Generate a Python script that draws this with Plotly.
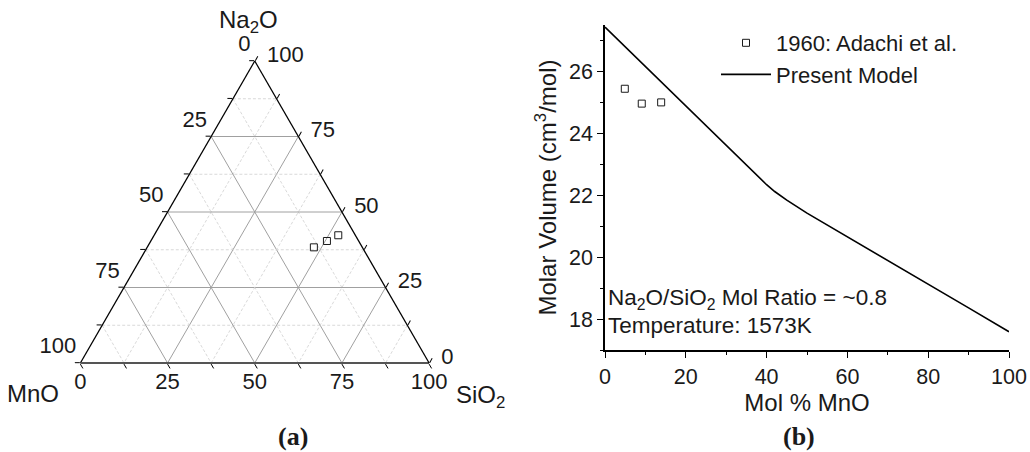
import plotly.graph_objects as go

# Adachi et al. (1960) melt compositions, mol %
mno_pct = [4.9, 9.1, 13.9]
na2o_pct = [42.3, 40.4, 38.3]
sio2_pct = [52.8, 50.5, 47.8]

# measured molar volume of those melts, cm3/mol
adachi_volume = [25.44, 24.96, 25.00]

# model prediction along the Na2O/SiO2 ~ 0.8 join
model_mno = [0, 10, 20, 30, 38, 40, 42, 45, 50, 60, 70, 80, 90, 100]
model_volume = [27.43, 26.15, 24.88, 23.60, 22.58, 22.34, 22.12, 21.84, 21.42,
                20.66, 19.89, 19.12, 18.36, 17.59]

# tick positions
ternary_ticks = [0, 12.5, 25, 37.5, 50, 62.5, 75, 87.5, 100]
ternary_major = [0, 25, 50, 75, 100]
x_ticks = [0, 20, 40, 60, 80, 100]
y_ticks = [18, 20, 22, 24, 26]

FONT = "Liberation Sans, Arial, sans-serif"
SERIF = "Liberation Serif, Times New Roman, serif"
INK = "#1a1a1a"
W, H = 1030, 452


def px_x(p):
    return p / W


def px_y(p):
    return 1 - p / H


fig = go.Figure()

# ternary grid: solid at the major ticks, dashed in between
for v in ternary_ticks[1:-1]:
    major = v in ternary_major
    style = dict(color="#a0a0a0", width=1) if major else dict(color="#cfcfcf", width=0.8, dash="3px,2px")
    for a, b, c in (
        ([v, v], [100 - v, 0], [0, 100 - v]),
        ([100 - v, 0], [v, v], [0, 100 - v]),
        ([100 - v, 0], [0, 100 - v], [v, v]),
    ):
        fig.add_trace(go.Scatterternary(a=a, b=b, c=c, mode="lines", line=style,
                                        showlegend=False, hoverinfo="skip"))

# MnO scale along the left edge (SiO2 = 0)
fig.add_trace(go.Scatterternary(
    a=[100 - v for v in ternary_major], b=ternary_major, c=[0] * len(ternary_major),
    mode="markers+text", text=[f"{v:g}" for v in ternary_major],
    textposition="top left", textfont=dict(family=FONT, size=22, color=INK),
    marker=dict(size=5, opacity=0), cliponaxis=False,
    showlegend=False, hoverinfo="skip",
))
# SiO2 scale along the bottom edge (Na2O = 0)
fig.add_trace(go.Scatterternary(
    a=[0] * len(ternary_major), b=[100 - v for v in ternary_major], c=ternary_major,
    mode="markers+text", text=[f"{v:g}" for v in ternary_major],
    textposition="bottom center", textfont=dict(family=FONT, size=22, color=INK),
    marker=dict(size=13.6, opacity=0), cliponaxis=False,
    showlegend=False, hoverinfo="skip",
))

fig.add_trace(go.Scatterternary(
    a=na2o_pct, b=mno_pct, c=sio2_pct, mode="markers",
    marker=dict(symbol="square-open", size=7, color=INK, line=dict(width=1)),
    showlegend=False,
))

fig.add_trace(go.Scatter(
    x=mno_pct, y=adachi_volume, mode="markers", name="1960: Adachi et al.",
    marker=dict(symbol="square-open", size=7, color=INK, line=dict(width=1)),
    xaxis="x", yaxis="y",
))
fig.add_trace(go.Scatter(
    x=model_mno, y=model_volume, mode="lines", name="Present Model",
    line=dict(color="black", width=1.6),
    xaxis="x", yaxis="y",
))

tern_axis = dict(
    tickmode="array", tickvals=ternary_ticks, showticklabels=False,
    showgrid=False, showline=True, linecolor="black", linewidth=1.3,
    ticks="outside", ticklen=5, tickcolor="black", tickwidth=1,
    title=dict(text=""),
)

fig.update_layout(
    template="none",
    width=W, height=H,
    margin=dict(l=0, r=0, t=0, b=0, pad=0, autoexpand=False),
    paper_bgcolor="white", plot_bgcolor="white",
    font=dict(family=FONT, size=22, color=INK),
    ternary=dict(
        domain=dict(x=[px_x(80), px_x(429.5)], y=[px_y(363), px_y(61)]),
        sum=100, bgcolor="white",
        aaxis=dict(tern_axis),
        baxis=dict(tern_axis, linecolor="#555555", linewidth=2.2),
        # Na2O scale along the right edge (MnO = 0)
        caxis=dict(tern_axis, showticklabels=True,
                   ticktext=["\u00a0" + f"{100 - v:g}" if v in ternary_major else "" for v in ternary_ticks],
                   tickfont=dict(family=FONT, size=22, color=INK)),
    ),
    xaxis=dict(
        domain=[px_x(605), px_x(1009)], range=[0, 100], anchor="y", automargin=False,
        tickmode="array", tickvals=x_ticks,
        ticks="outside", ticklen=6, tickwidth=1, tickcolor="black",
        minor=dict(ticks="outside", ticklen=3, dtick=10, tick0=0, tickcolor="black"),
        showline=True, linecolor="black", linewidth=1.5,
        showgrid=False, zeroline=False,
        tickfont=dict(family=FONT, size=21.5, color=INK),
        title=dict(text="Mol % MnO", font=dict(family=FONT, size=24, color=INK), standoff=6),
    ),
    yaxis=dict(
        domain=[px_y(350), px_y(25)], range=[17, 27.5], anchor="x", automargin=False,
        tickmode="array", tickvals=y_ticks,
        ticks="outside", ticklen=6, tickwidth=1, tickcolor="black",
        minor=dict(ticks="outside", ticklen=3, dtick=1, tick0=17, tickcolor="black"),
        showline=True, linecolor="black", linewidth=1.5,
        showgrid=False, zeroline=False,
        tickfont=dict(family=FONT, size=21.5, color=INK),
        title=dict(text="Molar Volume (cm<sup>3</sup>/mol)", font=dict(family=FONT, size=24, color=INK), standoff=6),
    ),
    legend=dict(
        x=px_x(716), y=px_y(22), xanchor="left", yanchor="top",
        bgcolor="rgba(0,0,0,0)", borderwidth=0,
        font=dict(family=FONT, size=22, color=INK),
        itemwidth=50, tracegroupgap=0,
    ),
    showlegend=True,
    annotations=[
        # ternary corner titles
        dict(text="Na<sub>2</sub>O", x=px_x(248), y=px_y(22), xref="paper", yref="paper",
             xanchor="center", yanchor="middle", showarrow=False,
             font=dict(family=FONT, size=24, color=INK)),
        dict(text="MnO", x=px_x(61), y=px_y(393), xref="paper", yref="paper",
             xanchor="right", yanchor="middle", showarrow=False,
             font=dict(family=FONT, size=24, color=INK)),
        dict(text="SiO<sub>2</sub>", x=px_x(454), y=px_y(396), xref="paper", yref="paper",
             xanchor="left", yanchor="middle", showarrow=False,
             font=dict(family=FONT, size=24, color=INK)),
        # right-panel notes
        dict(text="Na<sub>2</sub>O/SiO<sub>2</sub> Mol Ratio = ~0.8", x=0.3, y=18.64,
             xref="x", yref="y", xanchor="left", yanchor="middle", showarrow=False,
             font=dict(family=FONT, size=22.5, color=INK)),
        dict(text="Temperature: 1573K", x=0.3, y=17.8,
             xref="x", yref="y", xanchor="left", yanchor="middle", showarrow=False,
             font=dict(family=FONT, size=22.5, color=INK)),
        # panel captions
        dict(text="<b>(a)</b>", x=px_x(293), y=px_y(436), xref="paper", yref="paper",
             xanchor="center", yanchor="middle", showarrow=False,
             font=dict(family=SERIF, size=26, color=INK)),
        dict(text="<b>(b)</b>", x=px_x(799), y=px_y(436), xref="paper", yref="paper",
             xanchor="center", yanchor="middle", showarrow=False,
             font=dict(family=SERIF, size=26, color=INK)),
    ],
)

fig.write_html("out.html")
